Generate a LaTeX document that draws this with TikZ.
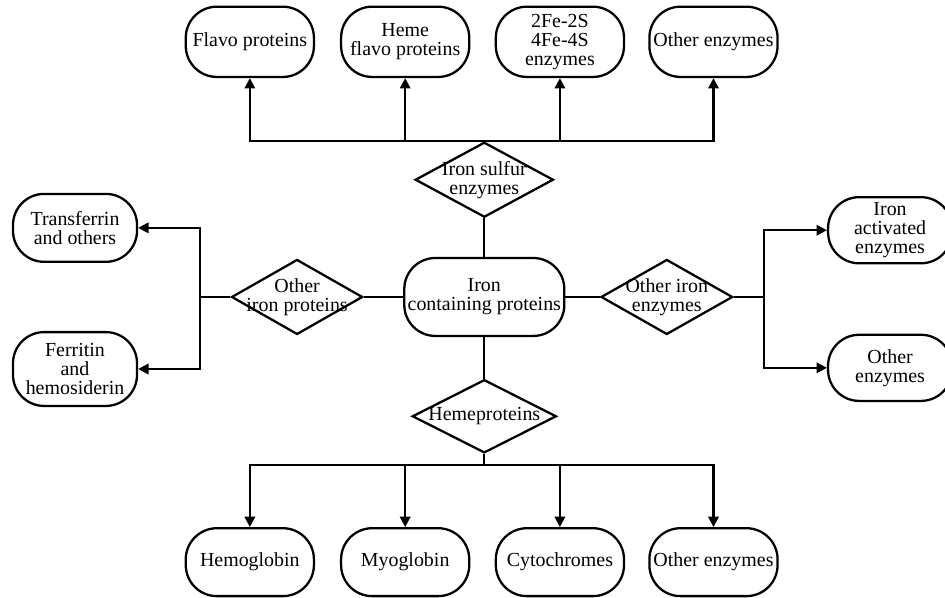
\documentclass[tikz,border=0pt]{standalone}
\usepackage{fontspec}
\setmainfont{Liberation Serif}
\usetikzlibrary{shapes.geometric, arrows.meta}

\begin{document}
\begin{tikzpicture}[
    box/.style={draw, rounded corners=15pt, line width=1.1pt, align=center, inner sep=1pt,
      font=\fontsize{9.6}{9.2}\selectfont},
    decision/.style={diamond, draw, line width=1.1pt, inner sep=0pt},
    arr/.style={line width=1.1pt, -{Triangle[length=5pt, width=5pt]}},
    every label/.style={align=center, font=\fontsize{9.6}{9.2}\selectfont}]
  \useasboundingbox (0, 0) rectangle (16, 10.108);

  % top row
  \node[box, minimum width=2.17cm, minimum height=1.19cm] (fp) at (4.23, 9.40) {Flavo proteins};
  \node[box, minimum width=2.17cm, minimum height=1.19cm] (hfp) at (6.86, 9.40) {Heme\\flavo proteins};
  \node[box, minimum width=2.17cm, minimum height=1.19cm] (fes) at (9.48, 9.40) {2Fe-2S\\4Fe-4S\\enzymes};
  \node[box, minimum width=2.17cm, minimum height=1.19cm] (oe1) at (12.08, 9.40) {Other enzymes};

  % diamonds and centre
  \node[decision, minimum width=2.34cm, minimum height=1.27cm,
    label={center:{Iron sulfur\\enzymes}}] (isf) at (8.2, 7.065) {};
  \node[box, minimum width=2.71cm, minimum height=1.32cm] (icp) at (8.2, 5.08) {Iron\\containing proteins};
  \node[decision, minimum width=2.22cm, minimum height=1.27cm,
    label={center:{Other\\iron proteins}}] (oip) at (5.03, 5.08) {};
  \node[decision, minimum width=2.23cm, minimum height=1.27cm,
    label={center:{Other iron\\enzymes}}] (oie) at (11.29, 5.08) {};
  \node[decision, minimum width=2.44cm, minimum height=1.24cm,
    label={center:Hemeproteins}] (hp) at (8.2, 3.06) {};

  % left and right boxes
  \node[box, minimum width=2.1cm, minimum height=1.15cm] (tao) at (1.27, 6.25) {Transferrin\\and others};
  \node[box, minimum width=2.1cm, minimum height=1.25cm] (fah) at (1.27, 3.86) {Ferritin\\and\\hemosiderin};
  \node[box, minimum width=2.1cm, minimum height=1.12cm] (iae) at (15.07, 6.21) {Iron\\activated\\enzymes};
  \node[box, minimum width=2.1cm, minimum height=1.12cm] (oe3) at (15.07, 3.88) {Other\\enzymes};

  % bottom row
  \node[box, minimum width=2.17cm, minimum height=1.15cm] (hgb) at (4.23, 0.59) {Hemoglobin};
  \node[box, minimum width=2.17cm, minimum height=1.15cm] (mgb) at (6.86, 0.59) {Myoglobin};
  \node[box, minimum width=2.17cm, minimum height=1.15cm] (cyt) at (9.48, 0.59) {Cytochromes};
  \node[box, minimum width=2.17cm, minimum height=1.15cm] (oe2) at (12.08, 0.59) {Other enzymes};

  \coordinate (lj) at (3.39, 5.08);
  \coordinate (rj) at (12.94, 5.08);
  \coordinate (hb) at (8.2, 2.23);

  \draw[line width=1.1pt] (isf) edge (icp);
  \draw[line width=1.1pt] (icp) edge (oip);
  \draw[line width=1.1pt] (icp) edge (oie);
  \draw[line width=1.1pt] (icp) edge (hp);
  \draw[line width=1.1pt] (oip) edge (lj);
  \draw[line width=1.1pt] (oie) edge (rj);
  \draw[line width=1.1pt] (hp) edge (hb);

  \draw[arr] (isf.north) -| (fp);
  \draw[arr] (isf.north) -| (hfp);
  \draw[arr] (isf.north) -| (fes);
  \draw[arr] (isf.north) -| (oe1);
  \draw[arr] (lj) |- (tao);
  \draw[arr] (lj) |- (fah);
  \draw[arr] (rj) |- (iae);
  \draw[arr] (rj) |- (oe3);
  \draw[arr] (hb) -| (hgb);
  \draw[arr] (hb) -| (mgb);
  \draw[arr] (hb) -| (cyt);
  \draw[arr] (hb) -| (oe2);
\end{tikzpicture}
\end{document}
